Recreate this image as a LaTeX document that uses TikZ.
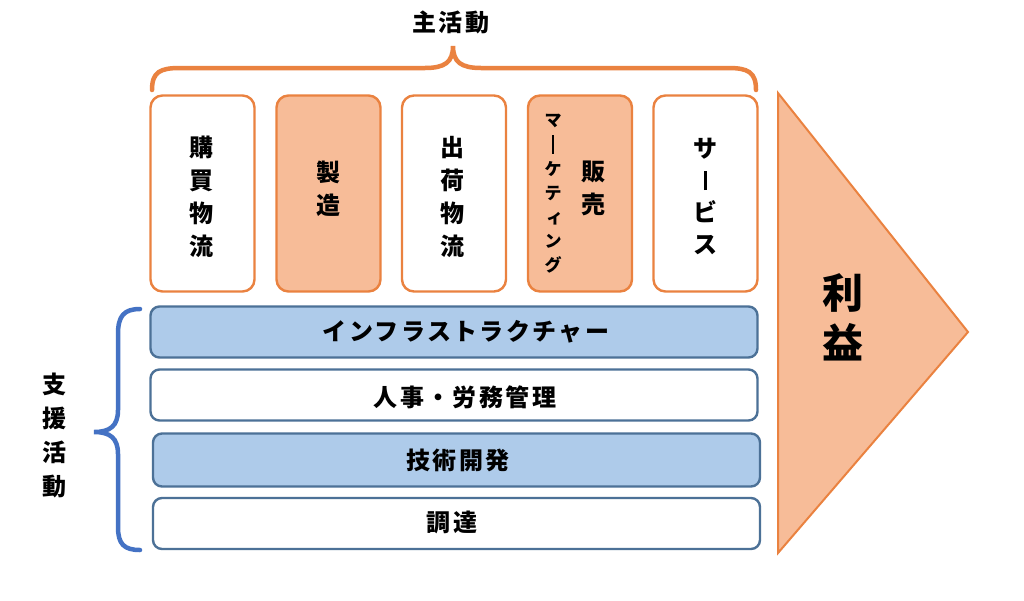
\documentclass[tikz,border=0pt]{standalone}
\usepackage{fontspec}
\newfontfamily\jp{Noto Sans CJK JP}[LetterSpace=10]
\newfontfamily\jpv{Noto Sans CJK JP}
\definecolor{orbd}{HTML}{EA8240}
\definecolor{orfill}{HTML}{F7BC98}
\definecolor{blfill}{HTML}{AECBEA}
\definecolor{blbd}{HTML}{4C7197}
\definecolor{brblue}{HTML}{4472C4}
\newcommand{\vbar}[2]{\raisebox{#2}{\rule{#1}{19pt}}}
\begin{document}
\begin{tikzpicture}[x=1pt,y=-1pt,
  topbox/.style={draw=orbd, line width=2.4pt, rounded corners=12pt, minimum width=104pt, minimum height=196pt, inner sep=0pt},
  botbox/.style={draw=blbd, line width=2.4pt, rounded corners=9pt, minimum width=607pt, minimum height=51pt, inner sep=0pt},
  vtext/.style={font=\jpv\bfseries\fontsize{24}{33}\selectfont, align=center, inner sep=0pt},
  htext/.style={font=\jp\bfseries\fontsize{24}{26}\selectfont, inner sep=0pt},
  brace/.style={line width=4.5pt, line cap=round}
]
\useasboundingbox (0,0) rectangle (1024,600);
\fill[white] (0,0) rectangle (1024,600);

% profit arrow
\draw[draw=orbd, fill=orfill, line width=2pt, line join=miter] (778,93) -- (968,332) -- (778,553) -- cycle;
\node[font=\jpv\bfseries\fontsize{41}{50}\selectfont, align=center, inner sep=0pt] (profit) at (843,317) {利\\益};

% primary activities
\node[topbox, fill=white] (b1) at (202.5,193.5) {};
\node[topbox, fill=orfill] (b2) at (328.5,193.5) {};
\node[topbox, fill=white] (b3) at (454,193.5) {};
\node[topbox, fill=orfill] (b4) at (580,193.5) {};
\node[topbox, fill=white] (b5) at (705.5,193.5) {};

\node[vtext] (t1) at (201,197) {購\\買\\物\\流};
\node[vtext] (t2) at (328,189) {製\\造};
\node[vtext] (t3) at (452,197) {出\\荷\\物\\流};
\node[vtext] (t4) at (593,188) {販\\売};
\node[font=\jpv\bfseries\fontsize{17}{24.2}\selectfont, align=center, inner sep=0pt] (t4m) at (553,194) {マ\\\vbar{2.4pt}{-3pt}\\ケ\\テ\\\hspace*{3pt}ィ\\ン\\グ};
\node[vtext, font=\jpv\bfseries\fontsize{24}{32}\selectfont] (t5) at (705,196) {サ\\\vbar{3pt}{-1pt}\\ビ\\ス};

% top brace
\draw[orbd, brace] (152,90) .. controls (152,72) and (160,68) .. (180,68) -- (425,68)
  .. controls (445,68) and (453,62) .. (453,46)
  .. controls (453,62) and (461,68) .. (481,68) -- (728,68)
  .. controls (748,68) and (756,72) .. (756,90);
\node[htext] (main) at (451,22) {主活動};

% support activities
\node[botbox, fill=blfill] (s1) at (454,332) {};
\node[botbox, fill=white] (s2) at (454,395) {};
\node[botbox, fill=blfill, minimum height=53pt] (s3) at (456.5,460) {};
\node[botbox, fill=white] (s4) at (456.5,523.5) {};

\node[htext] (st1) at (466,332) {インフラストラクチャー};
\node[htext] (st2) at (465,397) {人事・労務管理};
\node[htext] (st3) at (458,460) {技術開発};
\node[htext] (st4) at (452,522) {調達};

% left brace
\draw[brblue, brace] (140,309) .. controls (124,309) and (118,316) .. (118,334) -- (118,410)
  .. controls (118,426) and (110,432) .. (94,432)
  .. controls (110,432) and (118,438) .. (118,454) -- (118,527)
  .. controls (118,544) and (124,550) .. (140,550);
\node[vtext, font=\jpv\bfseries\fontsize{24}{34}\selectfont] (sup) at (54,435) {支\\援\\活\\動};
\end{tikzpicture}
\end{document}
